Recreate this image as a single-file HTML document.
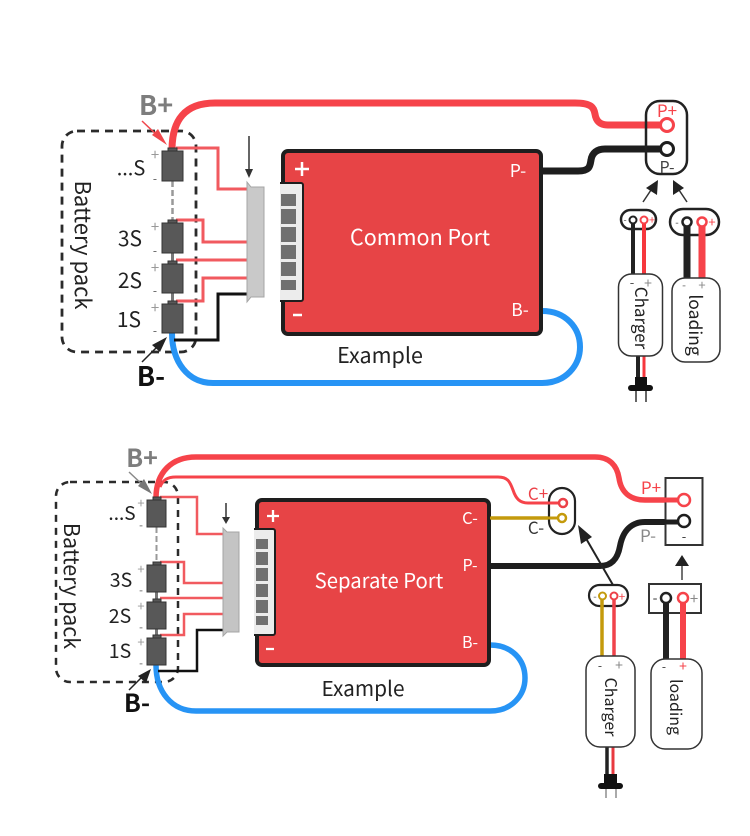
<!DOCTYPE html>
<html><head><meta charset="utf-8"><style>
html,body{margin:0;padding:0;background:#fff}
svg{display:block}
text{font-family:"Noto Sans CJK SC","Liberation Sans",sans-serif}
</style></head><body>
<svg width="750" height="836" viewBox="0 0 750 836" xmlns="http://www.w3.org/2000/svg">
<rect width="750" height="836" fill="#fff"/>
<g fill="none" stroke-linejoin="miter">
<!-- TOP -->
<rect x="62" y="131" width="134" height="221" rx="15" stroke="#2b2b2b" stroke-width="2.8" stroke-dasharray="8 6"/>
<path d="M172 150C172 120 185 103 215 103H575C592 103 594 108 595 114C596 121 600 125 608 125H667" stroke="#f6434a" stroke-width="7"/>
<path d="M542 171H578C590 171 590 166 591 160C592 153 597 149 605 149H667" stroke="#1e1e1e" stroke-width="7"/>
<path d="M172 333C172 362 188 383 213 383H542C566 383 580 365 580 347C580 328 566 311 542 311" stroke="#2794f5" stroke-width="6"/>
<path d="M176 148H218V189H247M176 220H203V242H247M176 260H247M176 301H203V278H247" stroke="#f15a5f" stroke-width="3"/>
<path d="M174 340H218V294H247" stroke="#111" stroke-width="3"/>
<path d="M172.500 181V223" stroke="#999" stroke-width="2.500" stroke-dasharray="6 3"/>
<path d="M172.500 253V264M172.500 293V304" stroke="#777" stroke-width="3"/>
</g>
<g fill="#585858" stroke="#333" stroke-width="1">
<rect x="162" y="151" width="21" height="30"/><rect x="168" y="148" width="9" height="3"/>
<rect x="162" y="223" width="21" height="30"/><rect x="168" y="220" width="9" height="3"/>
<rect x="162" y="264" width="21" height="29"/><rect x="168" y="261" width="9" height="3"/>
<rect x="162" y="304" width="21" height="29"/><rect x="168" y="301" width="9" height="3"/>
</g>
<polygon points="247,182 251,187 264,187 264,297 251,297 247,302" fill="#c9c9c9" stroke="#a5a5a5"/>
<path d="M249 136V170" stroke="#333" stroke-width="1.500"/><polygon points="245,169 253,169 249,178" fill="#333"/>
<rect x="283" y="151" width="258" height="183" rx="5" fill="#e74446" stroke="#1e1e1e" stroke-width="4"/>
<path d="M281 183H301a2 2 0 0 1 2 2V299a2 2 0 0 1 -2 2H281Z" fill="#ececec" stroke="#1e1e1e" stroke-width="2"/>
<path d="M281 184V300" stroke="#ececec" stroke-width="2"/>
<g fill="#707070"><rect x="281" y="194" width="15" height="12"/><rect x="281" y="209" width="15" height="15"/><rect x="281" y="227" width="15" height="15"/><rect x="281" y="245" width="15" height="14"/><rect x="281" y="262" width="15" height="14"/><rect x="281" y="280" width="15" height="10"/></g>
<path d="M295 169H309M302 162V176M293 315H302" stroke="#fff" stroke-width="2.500"/>
<rect x="646" y="101" width="41" height="73" rx="14" fill="none" stroke="#222" stroke-width="2.500"/>
<circle cx="667" cy="125" r="6.500" fill="#fff" stroke="#f6434a" stroke-width="3"/>
<circle cx="667" cy="149" r="6.500" fill="#fff" stroke="#1e1e1e" stroke-width="3"/>
<path d="M643 202L653 187" stroke="#333" stroke-width="1.500"/><polygon points="658,180 646,188 657,195" fill="#222"/>
<path d="M687 202L677 187" stroke="#333" stroke-width="1.500"/><polygon points="673,180 684,188 673,195" fill="#222"/>
<rect x="621" y="210" width="35" height="19" rx="9.500" fill="#fff" stroke="#222" stroke-width="2.500"/>
<rect x="670" y="209" width="49" height="26" rx="13" fill="#fff" stroke="#222" stroke-width="2.500"/>
<path d="M633 220V274" stroke="#222" stroke-width="4"/><path d="M644 220V274" stroke="#f6373d" stroke-width="4"/>
<path d="M687 222V278" stroke="#222" stroke-width="7"/><path d="M702 222V278" stroke="#f6434a" stroke-width="7"/>
<circle cx="633" cy="220" r="3.500" fill="#fff" stroke="#222" stroke-width="2"/><circle cx="644" cy="220" r="3.500" fill="#fff" stroke="#f6434a" stroke-width="2"/>
<circle cx="687" cy="222" r="4.500" fill="#fff" stroke="#222" stroke-width="2.500"/><circle cx="702" cy="222" r="4.500" fill="#fff" stroke="#f6434a" stroke-width="2.500"/>
<path d="M638 356V378" stroke="#222" stroke-width="4"/><path d="M644 356V378" stroke="#f6373d" stroke-width="3"/>
<path d="M636 388V402M646 388V402" stroke="#333" stroke-width="1.500"/>
<rect x="635" y="377" width="12" height="9" fill="#111"/><rect x="628" y="385" width="25" height="6" rx="3" fill="#111"/>
<rect x="618.500" y="274" width="44" height="82" rx="13" fill="#fff" stroke="#333" stroke-width="1.500"/>
<rect x="672" y="278" width="48" height="84" rx="13" fill="#fff" stroke="#333" stroke-width="1.500"/>

<!-- BOTTOM -->
<g fill="none">
<rect x="56" y="482" width="122" height="200" rx="14" stroke="#2b2b2b" stroke-width="2.500" stroke-dasharray="7 6"/>
<path d="M156 498C156 472 172 457 196 457H595C610 457 617 466 619 478C621 492 630 500 645 500H684" stroke="#f6434a" stroke-width="5.500"/>
<path d="M160 487C163 480 167 477 176 477H498C508 477 510 482 513 490C516 499 520 503 528 503H563" stroke="#f6434a" stroke-width="3"/>
<path d="M490 518H562" stroke="#c49a0c" stroke-width="3.500"/>
<path d="M490 566H600C613 566 618 557 620 546C623 530 632 522 645 522H684" stroke="#1e1e1e" stroke-width="6"/>
<path d="M156 665C156 692 172 711 196 711H490C512 711 525 695 525 678C525 660 512 645 490 645" stroke="#2794f5" stroke-width="5.500"/>
<path d="M160 497H197V534H223M160 562H184V583H223M160 598H223M160 635H184V614H223" stroke="#f15a5f" stroke-width="2.500"/>
<path d="M158 671H197V630H223" stroke="#111" stroke-width="2.500"/>
<path d="M156.500 527V565" stroke="#999" stroke-width="2" stroke-dasharray="6 3"/>
<path d="M156.500 592V602M156.500 629V638" stroke="#777" stroke-width="3"/>
</g>
<g fill="#585858" stroke="#333" stroke-width="1">
<rect x="147" y="500" width="19" height="27"/><rect x="153" y="497" width="8" height="3"/>
<rect x="147" y="565" width="19" height="27"/><rect x="153" y="562" width="8" height="3"/>
<rect x="147" y="602" width="19" height="27"/><rect x="153" y="599" width="8" height="3"/>
<rect x="147" y="638" width="19" height="27"/><rect x="153" y="635" width="8" height="3"/>
</g>
<polygon points="223,528 227,532 239,532 239,632 227,632 223,636" fill="#c4c4c4" stroke="#a5a5a5"/>
<path d="M226 503V518" stroke="#333" stroke-width="1.500"/><polygon points="222,517 230,517 226,524" fill="#333"/>
<rect x="257" y="500" width="232" height="165" rx="5" fill="#e74446" stroke="#1e1e1e" stroke-width="4"/>
<path d="M255 529H273a2 2 0 0 1 2 2V633a2 2 0 0 1 -2 2H255Z" fill="#ececec" stroke="#1e1e1e" stroke-width="2"/>
<path d="M255 530V634" stroke="#ececec" stroke-width="2"/>
<g fill="#707070"><rect x="256" y="539" width="12" height="10"/><rect x="256" y="552" width="12" height="13"/><rect x="256" y="568" width="12" height="13"/><rect x="256" y="584" width="12" height="13"/><rect x="256" y="600" width="12" height="13"/><rect x="256" y="616" width="12" height="9"/></g>
<path d="M267 516H279M273 510V522M266 649H274" stroke="#fff" stroke-width="2.300"/>
<rect x="549" y="488" width="26" height="46" rx="13" fill="#fff" stroke="#222" stroke-width="2.200"/>
<path d="M490 518H562" stroke="#c49a0c" stroke-width="3"/><path d="M528 503H563" stroke="#f6434a" stroke-width="3"/>
<circle cx="563" cy="503" r="4" fill="#fff" stroke="#ec4148" stroke-width="2.500"/><circle cx="562" cy="518" r="4" fill="#fff" stroke="#c49a0c" stroke-width="2.500"/>
<rect x="665.500" y="478" width="37" height="67" fill="#fff" stroke="#333" stroke-width="2"/>
<path d="M645 500H684" stroke="#f6434a" stroke-width="5"/><path d="M645 522H684" stroke="#1e1e1e" stroke-width="5"/>
<circle cx="684" cy="500" r="6" fill="#fff" stroke="#f6434a" stroke-width="2.500"/><circle cx="684" cy="521" r="6" fill="#fff" stroke="#1e1e1e" stroke-width="2.500"/>
<path d="M613 585L584 535" stroke="#222" stroke-width="2"/><polygon points="578,525 592,537 581,544" fill="#222"/>
<path d="M682 580V565" stroke="#444" stroke-width="1.500"/><polygon points="682,555 675,566 689,566" fill="#222"/>
<rect x="589" y="585" width="39" height="21" rx="10.500" fill="#fff" stroke="#222" stroke-width="2.200"/>
<rect x="649" y="584" width="52" height="29" fill="#fff" stroke="#333" stroke-width="2"/>
<path d="M602 596V656" stroke="#c49a0c" stroke-width="3.500"/><path d="M614 596V656" stroke="#f0434a" stroke-width="3.500"/>
<path d="M666 598V659" stroke="#222" stroke-width="6"/><path d="M683 598V659" stroke="#f6434a" stroke-width="6"/>
<circle cx="602.500" cy="596" r="3.500" fill="#fff" stroke="#c49a0c" stroke-width="2"/><circle cx="614" cy="596" r="3.500" fill="#fff" stroke="#ec4148" stroke-width="2"/>
<circle cx="666" cy="598" r="5" fill="#fff" stroke="#222" stroke-width="2.500"/><circle cx="683" cy="598" r="5" fill="#fff" stroke="#f6434a" stroke-width="2.500"/>
<path d="M607 747V776" stroke="#222" stroke-width="3.500"/><path d="M613 747V776" stroke="#e8393f" stroke-width="3"/>
<path d="M606 786V798M616 786V798" stroke="#aaa" stroke-width="2"/>
<rect x="604" y="774" width="13" height="9" fill="#111"/><rect x="598" y="783" width="25" height="6" rx="3" fill="#111"/>
<rect x="586" y="656" width="49" height="91" rx="14" fill="#fff" stroke="#333" stroke-width="1.500"/>
<rect x="651" y="659" width="51" height="90" rx="14" fill="#fff" stroke="#333" stroke-width="1.500"/>

<!-- arrows B+/B- -->
<path d="M142 121L160 138" stroke="#f0474c" stroke-width="1.500"/><polygon points="167,145 152,135 158,129" fill="#f0474c"/>
<path d="M142 362L158 346" stroke="#222" stroke-width="1.500"/><polygon points="167,337 160,352 152,345" fill="#222"/>
<path d="M129 472L146 488" stroke="#888" stroke-width="1.500"/><polygon points="152,494 138,486 144,479" fill="#777"/>
<path d="M129 690L143 676" stroke="#222" stroke-width="1.500"/><polygon points="151,669 146,683 138,676" fill="#222"/>

<!-- text -->
<g text-anchor="middle">
<text x="156" y="115" font-size="27" font-weight="700" fill="#7d7d7d">B+</text>
<text x="151" y="386" font-size="27" font-weight="700" fill="#111">B-</text>
<text x="131" y="175" font-size="20" fill="#222">...S</text>
<text x="130" y="246" font-size="21" fill="#222">3S</text>
<text x="130" y="288" font-size="21" fill="#222">2S</text>
<text x="129" y="327" font-size="21" fill="#222">1S</text>
<text x="155" y="160" font-size="15" fill="#999">+</text><text x="155" y="183" font-size="12" fill="#555">-</text>
<text x="155" y="232" font-size="15" fill="#999">+</text><text x="155" y="255" font-size="12" fill="#555">-</text>
<text x="155" y="273" font-size="15" fill="#999">+</text><text x="155" y="295" font-size="12" fill="#555">-</text>
<text x="155" y="313" font-size="15" fill="#999">+</text><text x="155" y="335" font-size="12" fill="#555">-</text>
<text transform="translate(75,245) rotate(90)" font-size="22" fill="#222">Battery pack</text>
<text x="420" y="245" font-size="21.500" fill="#fff">Common Port</text>
<text x="380" y="363" font-size="21.500" fill="#222">Example</text>
<text x="518" y="177" font-size="17.500" fill="#fff">P-</text>
<text x="520" y="316" font-size="17.500" fill="#fff">B-</text>
<text x="667" y="117" font-size="17" fill="#f6434a">P+</text>
<text x="667" y="173" font-size="16" fill="#444">P-</text>
<text x="625" y="223" font-size="9" fill="#444">-</text><text x="652" y="224" font-size="11" fill="#f6434a">+</text>
<text x="677" y="226" font-size="10" fill="#444">-</text><text x="712" y="227" font-size="13" fill="#f6434a">+</text>
<text x="632" y="287" font-size="13" fill="#444">-</text><text x="648" y="288" font-size="14" fill="#888">+</text>
<text x="684" y="289" font-size="11" fill="#666">-</text><text x="702" y="290" font-size="13" fill="#888">+</text>
<text transform="translate(635,318) rotate(90)" font-size="17" fill="#222">Charger</text>
<text transform="translate(689,325) rotate(90)" font-size="17.500" fill="#222">loading</text>

<text x="142" y="467" font-size="25" font-weight="700" fill="#7d7d7d">B+</text>
<text x="137" y="712" font-size="25" font-weight="700" fill="#111">B-</text>
<text x="122" y="520" font-size="19" fill="#222">...S</text>
<text x="121" y="587" font-size="19.500" fill="#222">3S</text>
<text x="120" y="623" font-size="19.500" fill="#222">2S</text>
<text x="120" y="658" font-size="19.500" fill="#222">1S</text>
<text x="141" y="508" font-size="13" fill="#999">+</text><text x="141" y="529" font-size="11" fill="#555">-</text>
<text x="141" y="574" font-size="13" fill="#999">+</text><text x="141" y="594" font-size="11" fill="#555">-</text>
<text x="141" y="611" font-size="13" fill="#999">+</text><text x="141" y="631" font-size="11" fill="#555">-</text>
<text x="141" y="647" font-size="13" fill="#999">+</text><text x="141" y="667" font-size="11" fill="#555">-</text>
<text transform="translate(64,586) rotate(90)" font-size="21.500" fill="#222">Battery pack</text>
<text x="379" y="588" font-size="20.300" fill="#fff">Separate Port</text>
<text x="363" y="696" font-size="20.800" fill="#222">Example</text>
<text x="470" y="524" font-size="16.500" fill="#fff">C-</text>
<text x="470" y="571" font-size="16" fill="#fff">P-</text>
<text x="470" y="648" font-size="16" fill="#fff">B-</text>
<text x="538" y="500" font-size="17" fill="#ec4148">C+</text>
<text x="536" y="534" font-size="17" fill="#333">C-</text>
<text x="651" y="494" font-size="17" fill="#f6434a">P+</text>
<text x="648" y="542" font-size="17" fill="#888">P-</text>
<text x="684" y="541" font-size="13" fill="#333">-</text>
<text x="595" y="600" font-size="10" fill="#555">-</text><text x="622" y="601" font-size="12" fill="#f6434a">+</text>
<text x="655" y="603" font-size="14" fill="#333">-</text><text x="694" y="604" font-size="15" fill="#888">+</text>
<text x="600" y="670" font-size="12" fill="#333">-</text><text x="619" y="670" font-size="14" fill="#888">+</text>
<text x="664" y="671" font-size="12" fill="#333">-</text><text x="683" y="671" font-size="14" fill="#f6434a">+</text>
<text transform="translate(605,707) rotate(90)" font-size="16" fill="#222">Charger</text>
<text transform="translate(670,707) rotate(90)" font-size="16" fill="#222">loading</text>
</g>
</svg>
</body></html>
